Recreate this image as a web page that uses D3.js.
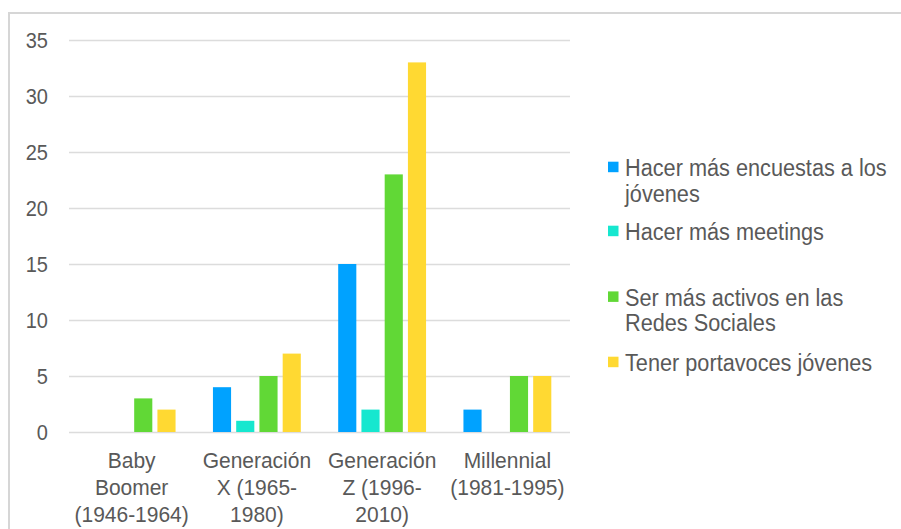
<!DOCTYPE html>
<html>
<head>
<meta charset="utf-8">
<script src="https://cdn.jsdelivr.net/npm/d3@7"></script>
<style>
  html, body { margin: 0; padding: 0; background: #fff; }
  svg { display: block; }
  text { font-family: "Liberation Sans", Arial, Helvetica, sans-serif; fill: #595959; }
</style>
</head>
<body>
<svg id="chart" width="901" height="529"></svg>
<script>
const categories = ["Baby Boomer (1946-1964)", "Generación X (1965-1980)", "Generación Z (1996-2010)", "Millennial (1981-1995)"];
const categoryLines = [
  ["Baby", "Boomer", "(1946-1964)"],
  ["Generación", "X (1965-", "1980)"],
  ["Generación", "Z (1996-", "2010)"],
  ["Millennial", "(1981-1995)"]
];
const seriesNames = ["Hacer más encuestas a los jóvenes", "Hacer más meetings", "Ser más activos en las Redes Sociales", "Tener portavoces jóvenes"];
const legendLines = [
  ["Hacer más encuestas a los", "jóvenes"],
  ["Hacer más meetings"],
  ["Ser más activos en las", "Redes Sociales"],
  ["Tener portavoces jóvenes"]
];
const encuestas = [0, 4, 15, 2];
const meetings = [0, 1, 2, 0];
const redes = [3, 5, 23, 5];
const portavoces = [2, 7, 33, 5];
const colors = ["#00A2FF", "#16E7CF", "#61D836", "#FFD932"];
const yTicks = [0, 5, 10, 15, 20, 25, 30, 35];

const seriesValues = [encuestas, meetings, redes, portavoces];
const svg = d3.select("#chart");

// outer frame
svg.append("path")
  .attr("d", "M9,529 L9,13 L901,13")
  .attr("fill", "none").attr("stroke", "#d6d6d6").attr("stroke-width", 2);

const x0 = d3.scaleBand().domain(categories).range([69, 570]).paddingInner(0.28).paddingOuter(0.14);
const x1 = d3.scaleBand().domain(seriesNames).range([0, x0.bandwidth()]).paddingInner(0.22).paddingOuter(0.05);
const y = d3.scaleLinear().domain([0, 35]).range([432, 40]);

// gridlines via axis
const grid = svg.append("g").attr("transform", "translate(69,0)")
  .call(d3.axisLeft(y).tickValues(yTicks).tickSize(-501).tickFormat(""));
grid.select(".domain").remove();
grid.selectAll(".tick line").attr("stroke", "#dcdcdc").attr("stroke-width", 1.6);

// y labels
const yLab = svg.append("g").attr("transform", "translate(48,0)")
  .call(d3.axisLeft(y).tickValues(yTicks).tickSize(0).tickPadding(0));
yLab.select(".domain").remove();
yLab.selectAll(".tick text")
  .attr("font-size", 20)
  .attr("font-family", "\"Liberation Sans\", Arial, sans-serif")
  .attr("fill", "#595959")
  .attr("x", 0)
  .attr("y", 0)
  .attr("dy", (7.5 / 1.1) + "px")
  .attr("transform", "scale(1,1.1)");

// bars
const groups = svg.append("g").selectAll("g")
  .data(categories).join("g")
  .attr("transform", d => `translate(${x0(d)},0)`);
groups.selectAll("rect")
  .data((c, i) => seriesNames.map((s, j) => ({ s, v: seriesValues[j][i], color: colors[j] })))
  .join("rect")
  .filter(d => d.v > 0)
  .attr("x", d => x1(d.s))
  .attr("width", x1.bandwidth())
  .attr("y", d => y(d.v))
  .attr("height", d => y(0) - y(d.v))
  .attr("fill", d => d.color);

// category labels
const catG = svg.append("g");
categories.forEach((c, i) => {
  const cx = x0(c) + x0.bandwidth() / 2;
  categoryLines[i].forEach((line, k) => {
    catG.append("text")
      .attr("transform", `translate(${cx},${468.3 + k * 26.7}) scale(1,1.03)`)
      .attr("text-anchor", "middle")
      .attr("font-size", 21)
      .text(line);
  });
});

// legend
const legendBaselines = [176, 240, 305.7, 371];
const leg = svg.append("g");
seriesNames.forEach((s, j) => {
  const b = legendBaselines[j];
  leg.append("rect")
    .attr("x", 608).attr("y", b - 14.3).attr("width", 10.5).attr("height", 10.5)
    .attr("fill", colors[j]);
  legendLines[j].forEach((line, k) => {
    leg.append("text")
      .attr("transform", `translate(625,${b + k * 25.7}) scale(1,1.08)`)
      .attr("font-size", 21.7)
      .text(line);
  });
});
</script>
</body>
</html>
